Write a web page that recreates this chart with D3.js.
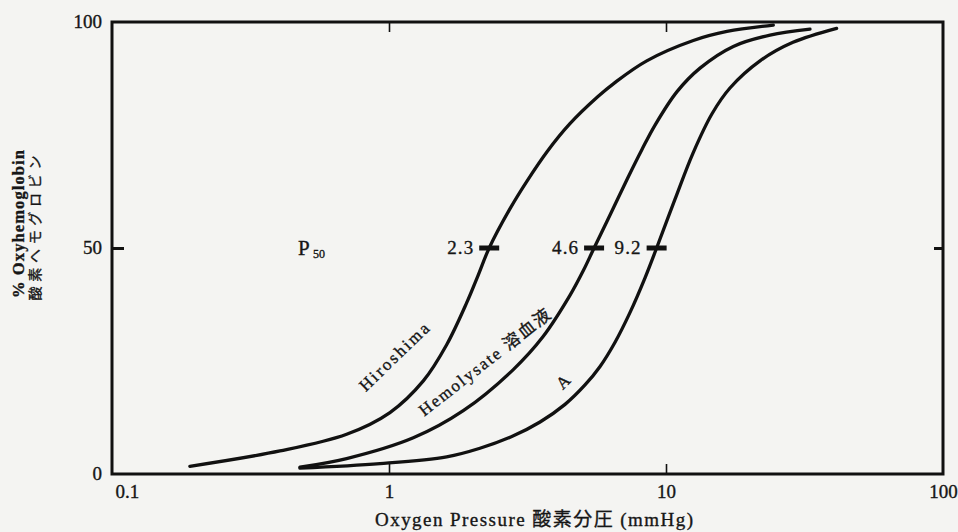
<!DOCTYPE html>
<html>
<head>
<meta charset="utf-8">
<script src="https://cdn.jsdelivr.net/npm/d3@7"></script>
<style>
    html, body { margin: 0; padding: 0; background: #f4f4f2; }
    svg { display: block; }
    text { fill: #161616; stroke: #161616; stroke-width: 0.35px; }
</style>
</head>
<body>
<svg id="chart" width="958" height="532"></svg>
<script>
// oxygen pressure (mmHg) / % oxyhemoglobin
const hiroshimaX = [0.191, 0.404, 0.703, 1.008, 1.33, 1.615, 1.908, 2.096, 2.30, 2.735, 3.149, 3.72, 4.50, 5.68, 6.54, 8.52, 12.55, 16.6, 24.4];
const hiroshimaY = [1.7, 5.1, 8.8, 13.6, 20.6, 28.6, 37.9, 43.9, 50, 58.7, 64.8, 71.3, 77.5, 83.5, 86.6, 91.4, 95.9, 97.9, 99.3];

const hemolysateX = [0.477, 0.703, 1.224, 1.854, 2.81, 3.60, 4.50, 5.03, 5.50, 6.28, 7.29, 8.19, 9.13, 10.96, 13.27, 17.5, 23.75, 33.1];
const hemolysateY = [1.5, 3.4, 8.0, 14.0, 23.1, 30.4, 39.5, 45.0, 50, 57.3, 65.6, 71.8, 77.2, 84.6, 89.8, 94.6, 97.1, 98.4];

const hbAX = [0.477, 0.928, 1.615, 2.13, 2.80, 3.51, 4.32, 5.10, 5.78, 6.54, 7.41, 8.40, 9.25, 10.78, 12.52, 14.66, 17.02, 21.85, 28.74, 41.3];
const hbAY = [1.3, 2.3, 3.8, 5.7, 8.4, 11.5, 15.4, 19.7, 23.8, 29.1, 35.7, 43.4, 50, 60.8, 71.0, 79.7, 85.4, 91.4, 95.5, 98.6];

// P50 marks: where each curve crosses 50 %, and the printed value
const p50X = [2.30, 5.50, 9.25];
const p50Labels = ["2.3", "4.6", "9.2"];

const xTicks = [0.1, 1, 10, 100];
const xTickLabels = ["0.1", "1", "10", "100"];
const yTicks = [0, 50, 100];

const serif = "'Liberation Serif', 'Times New Roman', serif";
const cjk = "'Liberation Serif', 'Noto Sans CJK JP', sans-serif";

let svg = d3.select("#chart");
let margin = {top: 22, right: 15, bottom: 58, left: 112};
let width = +svg.attr("width");
let height = +svg.attr("height");

let x = d3.scaleLog().domain([0.1, 100]).range([margin.left, width - margin.right]);
let y = d3.scaleLinear().domain([0, 100]).range([height - margin.bottom, margin.top]);

svg.append("rect")
    .attr("width", width)
    .attr("height", height)
    .attr("fill", "#f4f4f2");

// tick labels (no tick lines)
let xLab = svg.append("g")
    .attr("transform", `translate(0,${y(0)})`)
    .call(d3.axisBottom(x).tickValues(xTicks).tickSize(0).tickPadding(11)
        .tickFormat((d, i) => xTickLabels[i]));
xLab.select(".domain").remove();
xLab.selectAll("text")
    .attr("font-family", serif)
    .attr("font-size", 19)
    .attr("text-anchor", (d, i) => i === 0 ? "start" : "middle")
    .attr("dx", (d, i) => i === 0 ? 3 : 0);

let yLab = svg.append("g")
    .attr("transform", `translate(${x(0.1)},0)`)
    .call(d3.axisLeft(y).tickValues(yTicks).tickSize(0).tickPadding(10));
yLab.select(".domain").remove();
yLab.selectAll("text")
    .attr("font-family", serif)
    .attr("font-size", 19)
    .attr("dy", "0.3em");

// inward ticks
function innerTicks(axis, transform, values, size, w) {
    let g = svg.append("g")
        .attr("transform", transform)
        .call(axis.tickValues(values).tickSize(size).tickFormat(""));
    g.select(".domain").remove();
    g.selectAll("line").attr("stroke", "#111").attr("stroke-width", w);
}
innerTicks(d3.axisBottom(x), `translate(0,${y(0)})`, [1, 10], -10, 1.6);
innerTicks(d3.axisTop(x), `translate(0,${y(100)})`, [1, 10], -10, 1.6);
innerTicks(d3.axisLeft(y), `translate(${x(0.1)},0)`, [50], -12, 3);
innerTicks(d3.axisRight(y), `translate(${x(100)},0)`, [50], -9, 3);

// frame
svg.append("rect")
    .attr("x", x(0.1))
    .attr("y", y(100))
    .attr("width", x(100) - x(0.1))
    .attr("height", y(0) - y(100))
    .attr("fill", "none")
    .attr("stroke", "#111")
    .attr("stroke-width", 3);

// curves
let line = d3.line()
    .x(d => x(d[0]))
    .y(d => y(d[1]))
    .curve(d3.curveCatmullRom.alpha(0.5));

let curves = [
    [hiroshimaX, hiroshimaY],
    [hemolysateX, hemolysateY],
    [hbAX, hbAY]
];
curves.forEach(c => {
    svg.append("path")
        .datum(d3.zip(c[0], c[1]))
        .attr("d", line)
        .attr("fill", "none")
        .attr("stroke", "#111")
        .attr("stroke-width", 3.3)
        .attr("stroke-linecap", "round")
        .attr("stroke-linejoin", "round");
});

// P50 marks
svg.selectAll(".p50")
    .data(p50X)
    .join("line")
    .attr("x1", d => x(d) - 10)
    .attr("x2", d => x(d) + 10)
    .attr("y1", y(50))
    .attr("y2", y(50))
    .attr("stroke", "#111")
    .attr("stroke-width", 5);

svg.selectAll(".p50label")
    .data(p50X)
    .join("text")
    .text((d, i) => p50Labels[i])
    .attr("x", d => x(d) - 16)
    .attr("y", y(50) + 6)
    .attr("text-anchor", "end")
    .attr("font-family", serif)
    .attr("font-size", 19)
    .attr("textLength", 26);

svg.append("text")
    .text("P")
    .attr("x", 298)
    .attr("y", y(50) + 7)
    .attr("font-family", serif)
    .attr("font-size", 21);
svg.append("text")
    .text("50")
    .attr("x", 313)
    .attr("y", y(50) + 10)
    .attr("font-family", serif)
    .attr("font-size", 12);

// curve names, written along the curves
function curveLabel(text, cx, cy, angle, size, len) {
    svg.append("text")
        .text(text)
        .attr("transform", `translate(${cx},${cy}) rotate(${angle})`)
        .attr("text-anchor", "middle")
        .attr("font-family", cjk)
        .attr("font-size", size)
        .attr("textLength", len);
}
curveLabel("Hiroshima", 398, 361, -44, 17, 90);
curveLabel("Hemolysate 溶血液", 488, 367, -38, 17, 162);
curveLabel("A", 567, 386, -45, 17, 12);

// axis titles
svg.append("text")
    .text("Oxygen Pressure 酸素分圧 (mmHg)")
    .attr("x", 375)
    .attr("y", 526)
    .attr("font-family", cjk)
    .attr("font-size", 19)
    .attr("textLength", 318);

svg.append("text")
    .text("% Oxyhemoglobin")
    .attr("transform", "translate(24,224) rotate(-90)")
    .attr("text-anchor", "middle")
    .attr("font-family", serif)
    .attr("font-weight", "bold")
    .attr("font-size", 16.5)
    .attr("textLength", 148);

svg.append("text")
    .text("酸素ヘモグロビン")
    .attr("transform", "translate(40,228) rotate(-90)")
    .attr("text-anchor", "middle")
    .attr("font-family", "'Noto Sans CJK JP', sans-serif")
    .attr("font-size", 14)
    .attr("textLength", 145);
</script>
</body>
</html>
